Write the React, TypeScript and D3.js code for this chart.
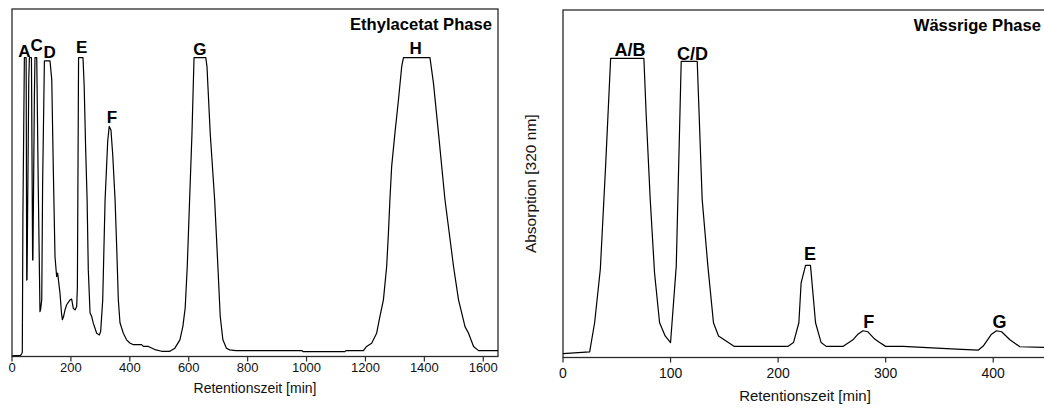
import React from "react";
import * as d3 from "d3";

// ---- Data ----
// Ethylacetat Phase: [Retentionszeit (min), Absorption (rel. %)]
const ethylTime = [0, 29, 33, 35, 37, 42, 48, 50, 51, 57, 59, 66, 70, 71, 76, 78, 84, 89, 95, 97, 101, 104, 110, 129, 135, 140, 146, 151.6, 155, 163, 168, 171, 175, 180, 185.6, 197, 202.6, 208, 214, 219.6, 222, 226, 241, 245, 250, 255, 259, 265, 270.6, 276, 287.5, 296.5, 301, 308, 316, 325, 330, 336, 342, 350, 356, 361, 366.6, 378, 389, 400, 412, 440, 446, 463, 485, 508, 536, 553, 570, 580, 588, 595, 603, 611, 618, 658, 662, 673, 688, 699, 707, 716, 728, 739, 760, 983, 989, 1130, 1135, 1193, 1204, 1221, 1238, 1249, 1261, 1272, 1278, 1283, 1289, 1300, 1312, 1323, 1329, 1419, 1431, 1448, 1470, 1499, 1516, 1538, 1550, 1567, 1584, 1650];
const ethylAbs = [0.2, 0.3, 0.8, 1.2, 40, 86, 86, 22, 22.1, 80, 86, 86, 27.8, 27.8, 75, 86, 86, 50, 12.9, 13.5, 16.3, 50, 85.1, 85.1, 79.6, 55, 28.7, 23, 24, 18.2, 12.5, 10.6, 11.5, 13.4, 14.9, 16.3, 16.5, 13.9, 13.4, 14.4, 20, 86, 86, 78, 60, 45.1, 25, 12.5, 11.5, 9.6, 6.7, 6.2, 7.2, 16.3, 45, 62, 66.2, 65.2, 58, 45, 30, 16.3, 9.7, 6.7, 4.8, 3.9, 3.4, 3.4, 2.9, 2.9, 2.0, 1.5, 1.5, 2.4, 4.8, 8.6, 14, 25.9, 45.1, 64.2, 86, 86, 83.4, 64.2, 45.1, 25.9, 11.5, 4.8, 2.4, 1.9, 1.7, 1.7, 1.4, 1.4, 1.7, 1.7, 2.9, 3.8, 6.7, 11.5, 16.3, 25.9, 35.5, 45.1, 54.7, 64.2, 73.8, 83.4, 86, 86, 78.6, 64.2, 45.1, 25.9, 16.3, 8.6, 6.7, 2.9, 1.7, 1.7];

// Wässrige Phase
const aqTime = [0, 24.8, 29.4, 34.7, 39.6, 44.3, 75.2, 77.4, 81.1, 85.1, 89.8, 95, 100, 105.3, 109.9, 124.8, 129.4, 134.7, 139.9, 144.6, 159.4, 209, 214.3, 219.3, 221.4, 225.5, 230.1, 234.8, 240, 244.7, 260.2, 269.6, 274.2, 278.9, 283.5, 289.8, 294.4, 300, 316, 365.8, 386, 390.7, 398.4, 403, 407.8, 415.5, 424.8, 447, 460];
const aqAbs = [1.1, 1.6, 10, 25.4, 55, 86.1, 86.1, 69.4, 45.5, 24.4, 10, 6.2, 4.3, 26.3, 85.2, 85.2, 45.5, 26.3, 10, 6.2, 3.2, 3.2, 4.3, 10, 21.5, 26.5, 26.5, 10, 4.3, 3.2, 3.2, 5.1, 6.7, 7.7, 7.4, 5.3, 4.3, 3.2, 3.2, 2.4, 2.1, 3.3, 6.7, 7.7, 7.4, 5.1, 3.1, 2.9, 2.9];

// Peak labels
const ethylLabels = ["A", "C", "D", "E", "F", "G", "H"];
const ethylLabelTime = [42.4, 83.9, 128, 236.6, 339.5, 638, 1370];
const ethylLabelAbs = [86.3, 88.0, 85.8, 87.4, 67.1, 86.8, 87.1];

const aqLabels = ["A/B", "C/D", "E", "F", "G"];
const aqLabelTime = [62.3, 120.4, 229.6, 284.2, 405.8];
const aqLabelAbs = [86.8, 85.6, 28.1, 8.4, 8.4];

const ethylTicks = [0, 200, 400, 600, 800, 1000, 1200, 1400, 1600];
const aqTicks = [0, 100, 200, 300, 400];

const FONT = "'Liberation Sans', Arial, Helvetica, sans-serif";

type PanelProps = {
  time: number[];
  abs: number[];
  labels: string[];
  labelTime: number[];
  labelAbs: number[];
  ticks: number[];
  xMax: number;
  left: number;
  right: number;
  top: number;
  bottom: number;
  title: string;
  tickFont: number;
  tickBaseline: number;
  axisFont: number;
  axisBaseline: number;
  labelFont: number;
  titleFont: number;
  yLabel?: string;
  yLabelX?: number;
  yLabelFont?: number;
};

function Panel(p: PanelProps) {
  const x = d3.scaleLinear().domain([0, p.xMax]).range([p.left, p.right]);
  const y = d3.scaleLinear().domain([0, 100]).range([p.bottom, p.top]);
  const pts: [number, number][] = p.time.map((t, i) => [t, p.abs[i]]);
  const line = d3
    .line<[number, number]>()
    .x((d) => x(d[0]))
    .y((d) => y(d[1]));
  const frame = "#2a2a2a";
  return (
    <g>
      <rect
        x={p.left}
        y={p.top}
        width={p.right - p.left}
        height={p.bottom - p.top}
        fill="none"
        stroke={frame}
        strokeWidth={1.3}
      />
      <path d={line(pts) || ""} fill="none" stroke="#000" strokeWidth={1.2} strokeLinejoin="round" />
      {p.ticks.map((t) => (
        <g key={t}>
          <line x1={x(t)} x2={x(t)} y1={p.bottom} y2={p.bottom + 5} stroke={frame} strokeWidth={1.2} />
          <text
            x={x(t)}
            y={p.tickBaseline}
            textAnchor="middle"
            fontFamily={FONT}
            fontSize={p.tickFont}
            fill="#111"
          >
            {t}
          </text>
        </g>
      ))}
      <text
        x={(p.left + p.right) / 2}
        y={p.axisBaseline}
        textAnchor="middle"
        fontFamily={FONT}
        fontSize={p.axisFont}
        fill="#111"
      >
        Retentionszeit [min]
      </text>
      {p.yLabel && (
        <text
          transform={`translate(${p.yLabelX},${(p.top + p.bottom) / 2}) rotate(-90)`}
          textAnchor="middle"
          fontFamily={FONT}
          fontSize={p.yLabelFont}
          fill="#111"
        >
          {p.yLabel}
        </text>
      )}
      <text
        x={p.right - 6}
        y={p.top + 21}
        textAnchor="end"
        fontFamily={FONT}
        fontWeight="bold"
        fontSize={p.titleFont}
        fill="#000"
      >
        {p.title}
      </text>
      {p.labels.map((l, i) => (
        <text
          key={l}
          x={x(p.labelTime[i])}
          y={y(p.labelAbs[i])}
          textAnchor="middle"
          fontFamily={FONT}
          fontWeight="bold"
          fontSize={p.labelFont}
          fill="#000"
        >
          {l}
        </text>
      ))}
    </g>
  );
}

export default function App() {
  return (
    <svg
      width={1044}
      height={409}
      style={{ position: "absolute", left: 0, top: 0, background: "#fff" }}
    >
      <rect x={0} y={0} width={1044} height={409} fill="#fff" />
      <Panel
        time={ethylTime}
        abs={ethylAbs}
        labels={ethylLabels}
        labelTime={ethylLabelTime}
        labelAbs={ethylLabelAbs}
        ticks={ethylTicks}
        xMax={1650}
        left={12}
        right={498}
        top={9}
        bottom={356.5}
        title="Ethylacetat Phase"
        tickFont={13}
        tickBaseline={371.5}
        axisFont={14}
        axisBaseline={393}
        labelFont={17}
        titleFont={16.6}
      />
      <Panel
        time={aqTime}
        abs={aqAbs}
        labels={aqLabels}
        labelTime={aqLabelTime}
        labelAbs={aqLabelAbs}
        ticks={aqTicks}
        xMax={450}
        left={563}
        right={1047}
        top={10}
        bottom={357.5}
        title="Wässrige Phase"
        tickFont={14}
        tickBaseline={378}
        axisFont={15}
        axisBaseline={401}
        labelFont={18}
        titleFont={16.6}
        yLabel="Absorption [320 nm]"
        yLabelX={536}
        yLabelFont={15.5}
      />
    </svg>
  );
}
